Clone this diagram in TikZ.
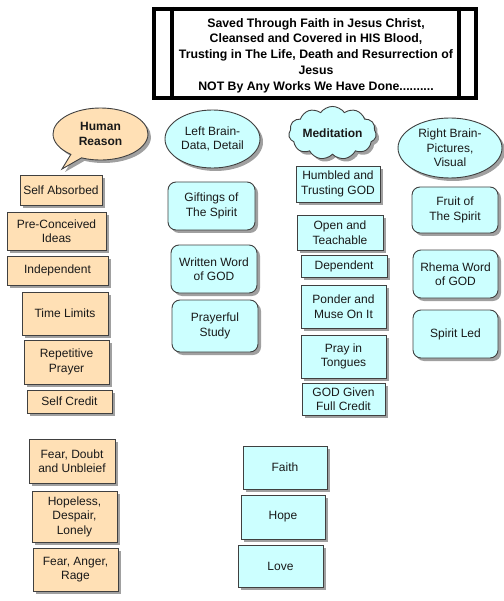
\documentclass[tikz,border=0pt]{standalone}
\usepackage{fontspec}
\setmainfont{Liberation Sans}
\usetikzlibrary{shapes.geometric,shapes.symbols,shapes.callouts,shadows}
\definecolor{peach}{HTML}{FFE0B5}
\definecolor{aqua}{HTML}{CCFFFF}
\definecolor{edge}{HTML}{404040}
\definecolor{shade}{HTML}{A0A0A0}
\tikzset{
  sh/.style={drop shadow={shadow xshift=3pt,shadow yshift=-3pt,fill=shade,opacity=1}},
  base/.style={draw=edge,line width=0.9pt,sh,align=center,inner sep=1pt,
    font=\fontsize{12}{14.5}\selectfont,text=black!90},
  pbox/.style={base,rectangle,fill=peach},
  cbox/.style={base,rectangle,fill=aqua},
  rbox/.style={base,rectangle,rounded corners=8pt,fill=aqua},
  oval/.style={base,ellipse,fill=aqua},
  boldtxt/.style={font=\fontsize{12}{15}\selectfont\bfseries},
  titleframe/.style={draw=black,line width=4pt}
}
\begin{document}
\begin{tikzpicture}[x=1pt,y=-1pt]
\useasboundingbox (0,0) rectangle (503,601);
% title box
\node[titleframe,rectangle,minimum width=322pt,minimum height=89pt,inner sep=0pt] (title) at (315,53.5) {};
\draw[line width=4pt] (172,7) -- (172,100);
\draw[line width=4pt] (459,7) -- (459,100);
\node[align=center,font=\fontsize{12.3}{15.8}\selectfont\bfseries] (titletext) at (316,55.5)
 {Saved Through Faith in Jesus Christ,\\Cleansed and Covered in HIS Blood,\\Trusting in The Life, Death and Resurrection of\\Jesus\\NOT By Any Works We Have Done..........};
% headers
\node[base,ellipse callout,fill=peach,minimum width=95pt,minimum height=52pt,
  callout absolute pointer={(62,169)},boldtxt] (hr) at (100.5,134) {Human\\Reason};
\node[oval,minimum width=95pt,minimum height=58pt] (lb) at (212.5,139) {Left Brain-\\Data, Detail};
\node[base,cloud,cloud puffs=11,cloud puff arc=110,aspect=2,fill=aqua,
  minimum width=75pt,minimum height=40pt,inner sep=0pt,boldtxt] (med) at (332.5,133) {Meditation};
\node[oval,minimum width=104pt,minimum height=60pt] (rb) at (450,148) {Right Brain-\\Pictures,\\Visual};
% left column
\node[pbox,minimum width=82pt,minimum height=30pt] (sa) at (61,190) {Self Absorbed};
\node[pbox,minimum width=99pt,minimum height=38pt] (pc) at (56.5,231) {Pre-Conceived\\Ideas};
\node[pbox,minimum width=101pt,minimum height=29pt] (ind) at (57.5,270.5) {Independent};
\node[pbox,minimum width=86pt,minimum height=43pt] (tl) at (65,313.5) {Time Limits};
\node[pbox,minimum width=85pt,minimum height=44pt] (rp) at (66.5,362) {Repetitive\\Prayer};
\node[pbox,minimum width=85pt,minimum height=23pt] (sc) at (69.5,401.5) {Self Credit};
\node[pbox,minimum width=86pt,minimum height=44pt] (fd) at (72,461) {Fear, Doubt\\and Unbleief};
\node[pbox,minimum width=85pt,minimum height=51pt] (hd) at (74.5,516.5) {Hopeless,\\Despair,\\Lonely};
\node[pbox,minimum width=85pt,minimum height=43pt] (far) at (75.5,569.5) {Fear, Anger,\\Rage};
% left brain column
\node[rbox,minimum width=87pt,minimum height=48pt] (gs) at (211.5,206) {Giftings of\\The Spirit};
\node[rbox,minimum width=86pt,minimum height=48pt] (ww) at (214,269) {Written Word\\of GOD};
\node[rbox,minimum width=86pt,minimum height=52pt] (ps) at (215,326) {Prayerful\\Study};
% meditation column
\node[cbox,minimum width=84pt,minimum height=36pt] (ht) at (338,184) {Humbled and\\Trusting GOD};
\node[cbox,minimum width=86pt,minimum height=35pt] (ot) at (340,232.5) {Open and\\Teachable};
\node[cbox,minimum width=86pt,minimum height=22pt] (dp) at (344,266) {Dependent};
\node[cbox,minimum width=85pt,minimum height=43pt] (pm) at (343.5,306.5) {Ponder and\\Muse On It};
\node[cbox,minimum width=85pt,minimum height=43pt] (pt) at (343.5,356.5) {Pray in\\Tongues};
\node[cbox,minimum width=83pt,minimum height=32pt] (gg) at (343.5,399) {GOD Given\\Full Credit};
% right brain column
\node[rbox,minimum width=86pt,minimum height=46pt] (fs) at (455,210) {Fruit of\\The Spirit};
\node[rbox,minimum width=85pt,minimum height=48pt] (rw) at (455.5,274) {Rhema Word\\of GOD};
\node[rbox,minimum width=85pt,minimum height=48pt] (sl) at (455.5,334) {Spirit Led};
% bottom middle
\node[cbox,minimum width=84pt,minimum height=43pt] (fa) at (285,467.5) {Faith};
\node[cbox,minimum width=84pt,minimum height=44pt] (ho) at (283,517) {Hope};
\node[cbox,minimum width=85pt,minimum height=42pt] (lo) at (280.5,566) {Love};
\end{tikzpicture}
\end{document}
